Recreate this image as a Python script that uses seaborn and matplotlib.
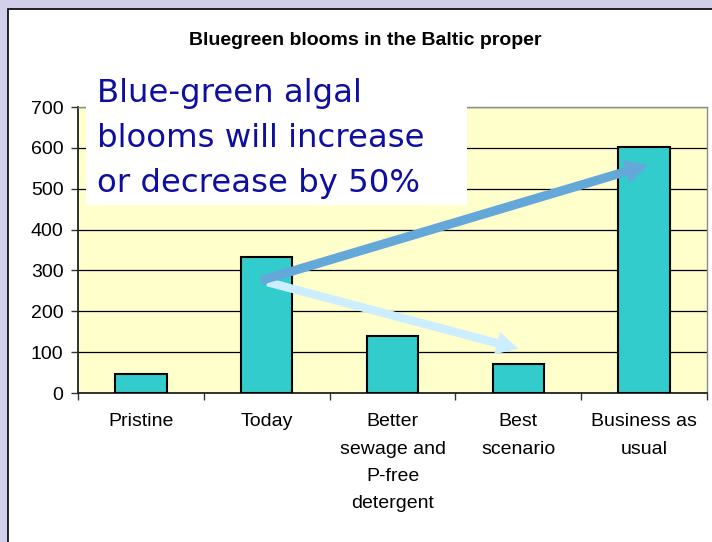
import matplotlib
matplotlib.use("Agg")
import matplotlib.pyplot as plt
from matplotlib.patches import Rectangle
import seaborn as sns
import pandas as pd

# ---- data ----
categories = ["Pristine", "Today", "Better sewage and P-free detergent",
              "Best scenario", "Business as usual"]
tick_labels = ["Pristine", "Today", "Better\nsewage and\nP-free\ndetergent",
               "Best\nscenario", "Business as\nusual"]
values = [46, 333, 139, 70, 602]
y_ticks = [0, 100, 200, 300, 400, 500, 600, 700]
title = "Bluegreen blooms in the Baltic proper"
callout_lines = ["Blue-green algal", "blooms will increase", "or decrease by 50%"]
# arrows (data coordinates: category index, value)
arrow_up = [(0.96, 276), (4.02, 557)]
arrow_down = [(1.01, 271), (2.99, 109)]

W, H = 712, 542
fig = plt.figure(figsize=(W / 100, H / 100), dpi=100, facecolor="#D0D0EA")
plt.rcParams["font.family"] = ["Liberation Sans", "DejaVu Sans"]

# white panel
panel = Rectangle((8 / W, -0.01), 1.02, 1 - 9 / H + 0.01, transform=fig.transFigure,
                  facecolor="white", edgecolor="black", linewidth=1.2, zorder=-1)
fig.add_artist(panel)

ax = fig.add_axes([78 / W, 1 - 393 / H, (707 - 78) / W, (393 - 107) / H])
ax.set_facecolor("#FFFFCC")

df = pd.DataFrame({"category": categories, "value": values})
sns.barplot(data=df, x="category", y="value", color="#33CCCC", saturation=1,
            edgecolor="black", linewidth=1.5, width=0.41, ax=ax, zorder=3)

ax.set_xlim(-0.5, len(categories) - 0.5)
ax.set_ylim(0, 700)
ax.set_yticks(y_ticks)
ax.set_yticklabels([str(v) for v in y_ticks], fontsize=14)
ax.set_xticks(range(len(categories)))
ax.set_xticklabels(tick_labels, fontsize=14, linespacing=1.8)
ax.set_xticks([i - 0.5 for i in range(len(categories) + 1)], minor=True)
ax.tick_params(axis="x", which="major", length=0, pad=14.5)
ax.tick_params(axis="x", which="minor", length=5, width=1, direction="out", color="#333333")
ax.tick_params(axis="y", length=5, width=1, direction="out", pad=5.5, color="#333333")
ax.set_xlabel("")
ax.set_ylabel("")

ax.yaxis.grid(True, color="black", linewidth=0.9)
ax.set_axisbelow(True)
for s in ["left", "bottom"]:
    ax.spines[s].set_color("#222222")
    ax.spines[s].set_linewidth(1.3)
for s in ["top", "right"]:
    ax.spines[s].set_color("#8C8C8C")
    ax.spines[s].set_linewidth(1.0)

# arrows
ax.annotate("", xy=arrow_up[1], xytext=arrow_up[0],
            arrowprops=dict(arrowstyle="simple,head_length=1.25,head_width=1.35,tail_width=0.46",
                            mutation_scale=12, color="#64A8DA", shrinkA=0, shrinkB=0),
            zorder=5)
ax.annotate("", xy=arrow_down[1], xytext=arrow_down[0],
            arrowprops=dict(arrowstyle="simple,head_length=1.2,head_width=1.25,tail_width=0.42",
                            mutation_scale=12, color="#CCEEFF", shrinkA=0, shrinkB=0),
            zorder=4)

# title
fig.text(365 / W, 1 - 45 / H, title, ha="center", va="baseline",
         fontsize=14, fontweight="bold", color="black")

# callout box
box = Rectangle((86 / W, 1 - 205 / H), (467 - 86) / W, (205 - 60) / H,
                transform=fig.transFigure, facecolor="white", edgecolor="none", zorder=6)
fig.add_artist(box)
for i, line in enumerate(callout_lines):
    fig.text(97 / W, 1 - (102 + 45 * i) / H, line, ha="left", va="baseline",
             fontsize=23.3, color="#0E0EA0", family=["DejaVu Sans"], zorder=7)

fig.savefig("out.png", dpi=100, facecolor=fig.get_facecolor())
